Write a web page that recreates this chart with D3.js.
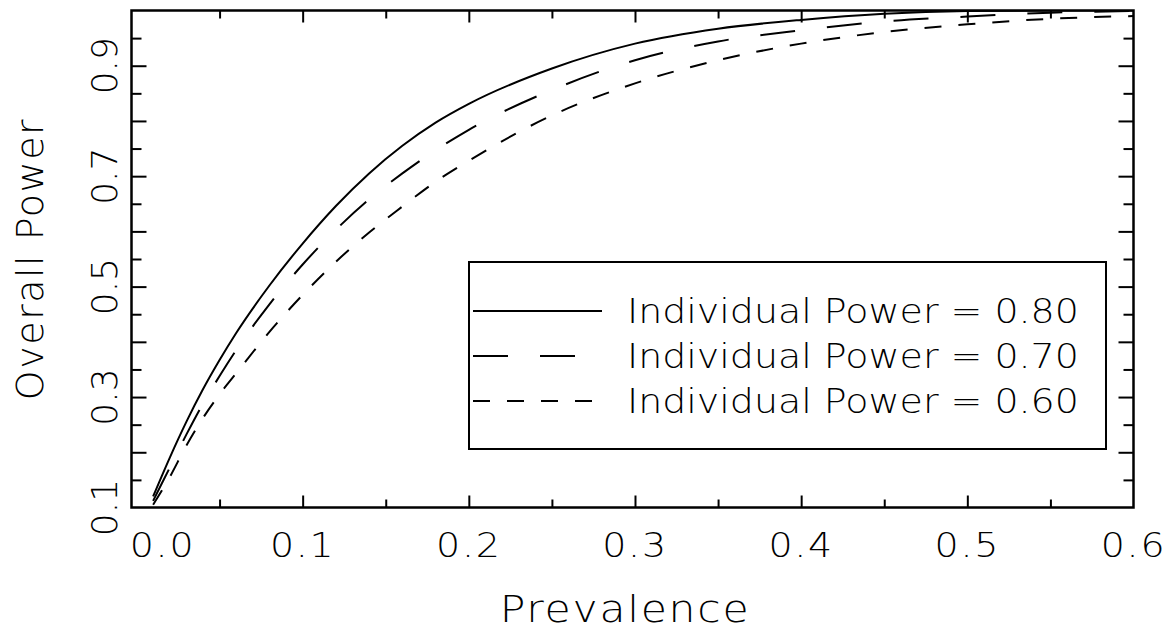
<!DOCTYPE html>
<html><head><meta charset="utf-8">
<script src="https://cdn.jsdelivr.net/npm/d3@7"></script>
<style>
html,body{margin:0;padding:0;background:#fff;}
svg{display:block;}
text{font-family:"DejaVu Sans","Liberation Sans",Arial,sans-serif;font-weight:200;fill:#000;}
</style>
</head><body>
<svg id="chart" width="1169" height="631"></svg>
<script>
// ---- data ----
const prevalence = [0.01,0.02,0.03,0.04,0.05,0.06,0.08,0.10,0.12,0.14,0.16,0.18,0.20,0.25,0.30,0.35,0.40,0.45,0.50,0.55,0.60];
const power80 = [0.120,0.190,0.255,0.314,0.367,0.416,0.502,0.578,0.646,0.705,0.755,0.797,0.831,0.895,0.940,0.967,0.983,0.994,0.999,1.000,1.000];
const power70 = [0.112,0.172,0.232,0.288,0.338,0.385,0.468,0.540,0.603,0.658,0.705,0.747,0.784,0.856,0.910,0.944,0.964,0.980,0.989,0.996,0.999];
const power60 = [0.105,0.155,0.212,0.262,0.305,0.343,0.418,0.485,0.545,0.598,0.645,0.690,0.728,0.810,0.868,0.910,0.940,0.961,0.975,0.985,0.990];
const seriesNames = ["Individual Power = 0.80","Individual Power = 0.70","Individual Power = 0.60"];
const xTickValues = [0.0,0.1,0.2,0.3,0.4,0.5,0.6];
const xTickLabels = ["0.0","0.1","0.2","0.3","0.4","0.5","0.6"];
const yTickValues = [0.1,0.3,0.5,0.7,0.9];
const yTickLabels = ["0.1","0.3","0.5","0.7","0.9"];
const xTitle = "Prevalence";
const yTitle = "Overall Power";

// ---- layout ----
const svg = d3.select("#chart");
const X0 = -0.003, X1 = 0.6, Y0 = 0.1, Y1 = 1.0;
const x = d3.scaleLinear().domain([X0, X1]).range([131.5, 1133.5]);
const y = d3.scaleLinear().domain([Y0, Y1]).range([507.5, 10.5]);
const L = x(X0), R = x(X1), T = y(Y1), B = y(Y0);
const HS = 1.15; // horizontal stretch of horizontal text

const dashes = [null, "35,32", "17,17"];
const series = [power80, power70, power60];

svg.append("clipPath").attr("id","clip").append("rect")
  .attr("x", L).attr("y", T).attr("width", R-L).attr("height", B-T);

// ticks
const minorX = d3.range(1, 12).map(i => i*0.05).filter(v => Math.abs(v*10 - Math.round(v*10)) > 1e-6);
const majorX = [0.1,0.2,0.3,0.4,0.5];
const minorY = d3.range(3, 20).map(i => i*0.05).filter(v => Math.abs(v*10 - Math.round(v*10)) > 1e-6);
const majorY = [0.2,0.3,0.4,0.5,0.6,0.7,0.8,0.9];

function tickAxis(gen, vals, size, tr){
  const g = svg.append("g").attr("transform", tr)
    .call(gen.tickValues(vals).tickSize(size).tickFormat(""));
  g.select(".domain").remove();
  g.selectAll("line").attr("stroke","#000").attr("stroke-width",2);
}
tickAxis(d3.axisTop(x), minorX, 8, `translate(0,${B})`);
tickAxis(d3.axisTop(x), majorX, 12, `translate(0,${B})`);
tickAxis(d3.axisBottom(x), minorX, 8, `translate(0,${T})`);
tickAxis(d3.axisBottom(x), majorX, 12, `translate(0,${T})`);
tickAxis(d3.axisRight(y), minorY, 10, `translate(${L},0)`);
tickAxis(d3.axisRight(y), majorY, 15, `translate(${L},0)`);
tickAxis(d3.axisLeft(y), minorY, 10, `translate(${R},0)`);
tickAxis(d3.axisLeft(y), majorY, 15, `translate(${R},0)`);

// frame
svg.append("rect").attr("x", L).attr("y", T).attr("width", R-L).attr("height", B-T)
  .attr("fill","none").attr("stroke","#000").attr("stroke-width",2.5);

// curves
const line = d3.line().x((d,i)=>x(prevalence[i])).y(d=>y(d)).curve(d3.curveMonotoneX);
series.forEach((s,k)=>{
  svg.append("path").datum(s).attr("d", line).attr("fill","none")
    .attr("stroke","#000").attr("stroke-width",2)
    .attr("stroke-dasharray", dashes[k]).attr("clip-path","url(#clip)");
});

// x tick labels
xTickValues.forEach((v,i)=>{
  const px = Math.max(x(v), L + 31);
  svg.append("text").attr("transform", `translate(${px},557) scale(${HS},1)`)
    .attr("text-anchor","middle").attr("font-size",33).attr("letter-spacing",1.5).text(xTickLabels[i]);
});
// y tick labels
yTickValues.forEach((v,i)=>{
  svg.append("text").attr("transform", `translate(117,${y(v)}) rotate(-90)`)
    .attr("text-anchor","middle").attr("font-size",36).text(yTickLabels[i]);
});
// titles
svg.append("text").attr("transform", `translate(625,622) scale(${HS},1)`)
  .attr("text-anchor","middle").attr("font-size",37).attr("letter-spacing",1.5).text(xTitle);
svg.append("text").attr("transform", `translate(43,${(T+B)/2}) rotate(-90)`)
  .attr("text-anchor","middle").attr("font-size",38).attr("letter-spacing",1.5).text(yTitle);

// legend
const lg = {x:469, y:262, w:637, h:187};
svg.append("rect").attr("x",lg.x).attr("y",lg.y).attr("width",lg.w).attr("height",lg.h)
  .attr("fill","#fff").attr("stroke","#000").attr("stroke-width",2);
const rowY = [311, 356, 401];
seriesNames.forEach((name,k)=>{
  svg.append("line").attr("x1",lg.x+4).attr("x2",lg.x+133).attr("y1",rowY[k]).attr("y2",rowY[k])
    .attr("stroke","#000").attr("stroke-width",2).attr("stroke-dasharray",dashes[k]);
  svg.append("text").attr("transform",`translate(${lg.x+158},${rowY[k]+12}) scale(${HS},1)`)
    .attr("font-size",33).text(name);
});
</script>
</body></html>
